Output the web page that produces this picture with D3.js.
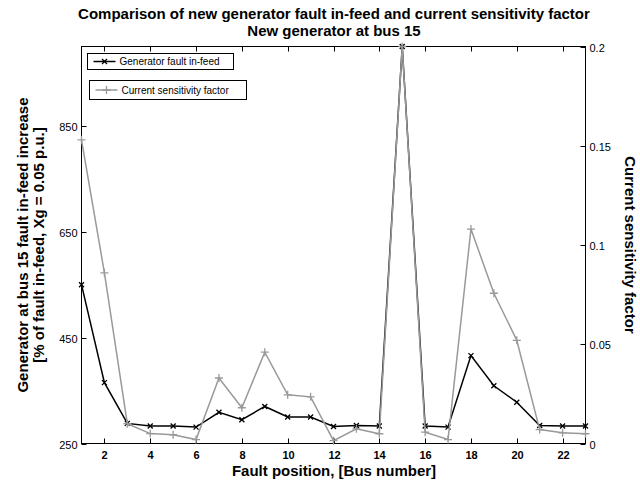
<!DOCTYPE html>
<html>
<head>
  <meta charset="UTF-8">
  <style>
    body {
      margin: 0;
      background-color: #ffffff;
      font-family: "Liberation Sans", Arial, sans-serif;
    }
    svg {
      display: block;
    }
    .tick-label {
      font-size: 11px;
      fill: #000;
    }
    .axis-title {
      font-size: 15px;
      font-weight: bold;
      fill: #000;
    }
    .legend-text {
      font-size: 10px;
      fill: #000;
    }
  </style>
</head>
<body>

<svg width="640" height="480"></svg>

<script src="https://d3js.org/d3.v7.min.js"></script>

<script>
// data
let buses = [1, 2, 3, 4, 5, 6, 7, 8, 9, 10, 11, 12, 13, 14, 15, 16, 17, 18, 19, 20, 21, 22, 23];
let infeed = [550, 365, 288, 283, 283, 281, 309, 295, 320, 300, 300, 282, 284, 283, 1000, 283, 281, 416, 359, 328, 284, 283, 283];
let sensitivity = [0.153, 0.086, 0.010, 0.005, 0.0044, 0.002, 0.033, 0.018, 0.046, 0.0245, 0.0235, 0.0014, 0.0074, 0.0049, 0.2, 0.0057, 0.002, 0.108, 0.0757, 0.052, 0.007, 0.0054, 0.0049];
let xTicks = [2, 4, 6, 8, 10, 12, 14, 16, 18, 20, 22];
let leftTicks = [250, 450, 650, 850];
let rightTicks = [0, 0.05, 0.1, 0.15, 0.2];
let seriesNames = ["Generator fault in-feed", "Current sensitivity factor"];

let pLeft = 81.5, pRight = 585.5, pTop = 46.5, pBottom = 443.5;
let tickLen = 5;

let svg = d3.select("svg");

let x = d3.scaleLinear().domain([1, 23]).range([pLeft, pRight]);
let yL = d3.scaleLinear().domain([250, 1000]).range([pBottom, pTop]);
let yR = d3.scaleLinear().domain([0, 0.2]).range([pBottom, pTop]);

// titles
svg.append("text")
    .attr("x", 334).attr("y", 19)
    .attr("text-anchor", "middle")
    .attr("class", "axis-title")
    .text("Comparison of new generator fault in-feed and current sensitivity factor");
svg.append("text")
    .attr("x", 334).attr("y", 36)
    .attr("text-anchor", "middle")
    .attr("class", "axis-title")
    .text("New generator at bus 15");

// frame
svg.append("rect")
    .attr("x", pLeft).attr("y", pTop)
    .attr("width", pRight - pLeft).attr("height", pBottom - pTop)
    .attr("fill", "none").attr("stroke", "#000").attr("stroke-width", 1);

// x ticks (bottom and top, pointing inwards)
let gx = svg.append("g");
xTicks.forEach(t => {
  let px = Math.round(x(t)) + 0.5;
  gx.append("line").attr("x1", px).attr("x2", px).attr("y1", pBottom).attr("y2", pBottom - tickLen).attr("stroke", "#000");
  gx.append("line").attr("x1", px).attr("x2", px).attr("y1", pTop).attr("y2", pTop + tickLen).attr("stroke", "#000");
  gx.append("text")
      .attr("x", px).attr("y", 459)
      .attr("text-anchor", "middle")
      .attr("class", "tick-label")
      .style("font-weight", "bold")
      .text(t);
});

// left axis ticks
let gl = svg.append("g");
leftTicks.forEach(t => {
  let py = Math.round(yL(t)) + 0.5;
  gl.append("line").attr("x1", pLeft).attr("x2", pLeft + tickLen).attr("y1", py).attr("y2", py).attr("stroke", "#000");
  gl.append("text")
      .attr("x", pLeft - 4).attr("y", py + 4)
      .attr("text-anchor", "end")
      .attr("class", "tick-label")
      .text(t);
});

// right axis ticks
let gr = svg.append("g");
rightTicks.forEach(t => {
  let py = Math.round(yR(t)) + 0.5;
  gr.append("line").attr("x1", pRight).attr("x2", pRight - tickLen).attr("y1", py).attr("y2", py).attr("stroke", "#000");
  gr.append("text")
      .attr("x", pRight + 4).attr("y", py + 4)
      .attr("class", "tick-label")
      .text(t);
});

// axis titles
svg.append("text")
    .attr("x", 334).attr("y", 476)
    .attr("text-anchor", "middle")
    .attr("class", "axis-title")
    .text("Fault position, [Bus number]");

svg.append("text")
    .attr("transform", "translate(28," + (pTop + pBottom) / 2 + ") rotate(-90)")
    .attr("text-anchor", "middle")
    .attr("class", "axis-title")
    .text("Generator at bus 15 fault in-feed increase");
svg.append("text")
    .attr("transform", "translate(44," + (pTop + pBottom) / 2 + ") rotate(-90)")
    .attr("text-anchor", "middle")
    .attr("class", "axis-title")
    .text("[% of fault in-feed, Xg = 0.05 p.u.]");

svg.append("text")
    .attr("transform", "translate(625," + (pTop + pBottom) / 2 + ") rotate(90)")
    .attr("text-anchor", "middle")
    .attr("class", "axis-title")
    .text("Current sensitivity factor");

// markers
function xMark(g, cx, cy, s, color) {
  g.append("path")
      .attr("d", `M${cx - s},${cy - s}L${cx + s},${cy + s}M${cx - s},${cy + s}L${cx + s},${cy - s}`)
      .attr("stroke", color).attr("stroke-width", 1.3).attr("fill", "none");
}
function plusMark(g, cx, cy, s, color) {
  g.append("path")
      .attr("d", `M${cx - s},${cy}L${cx + s},${cy}M${cx},${cy - s}L${cx},${cy + s}`)
      .attr("stroke", color).attr("stroke-width", 1.3).attr("fill", "none");
}

let black = "#000000", grey = "#999999";

// generator fault in-feed (left axis)
let lineL = d3.line().x((d, i) => x(buses[i])).y(d => yL(d));
let g1 = svg.append("g");
g1.append("path")
    .attr("d", lineL(infeed))
    .attr("fill", "none").attr("stroke", black).attr("stroke-width", 1.5);
infeed.forEach((d, i) => xMark(g1, x(buses[i]), yL(d), 2.5, black));

// current sensitivity factor (right axis)
let lineR = d3.line().x((d, i) => x(buses[i])).y(d => yR(d));
let g2 = svg.append("g");
g2.append("path")
    .attr("d", lineR(sensitivity))
    .attr("fill", "none").attr("stroke", grey).attr("stroke-width", 1.5);
sensitivity.forEach((d, i) => plusMark(g2, x(buses[i]), yR(d), 4, grey));

// legends (two separate boxes, one per axis)
let legends = [
  { x: 87.5, y: 53.5, w: 146, h: 16, color: black, mark: xMark },
  { x: 89.5, y: 80.5, w: 157, h: 19, color: grey, mark: plusMark }
];
legends.forEach((l, i) => {
  let g = svg.append("g");
  g.append("rect")
      .attr("x", l.x).attr("y", l.y).attr("width", l.w).attr("height", l.h)
      .attr("fill", "#fff").attr("stroke", "#000").attr("stroke-width", 1);
  let cy = l.y + l.h / 2;
  g.append("line")
      .attr("x1", l.x + 6).attr("x2", l.x + 28).attr("y1", cy).attr("y2", cy)
      .attr("stroke", l.color).attr("stroke-width", 1.5);
  l.mark(g, l.x + 17, cy, i == 0 ? 2.5 : 4, l.color);
  g.append("text")
      .attr("x", l.x + 32).attr("y", cy + 3.5)
      .attr("class", "legend-text")
      .text(seriesNames[i]);
});
</script>

</body>
</html>
